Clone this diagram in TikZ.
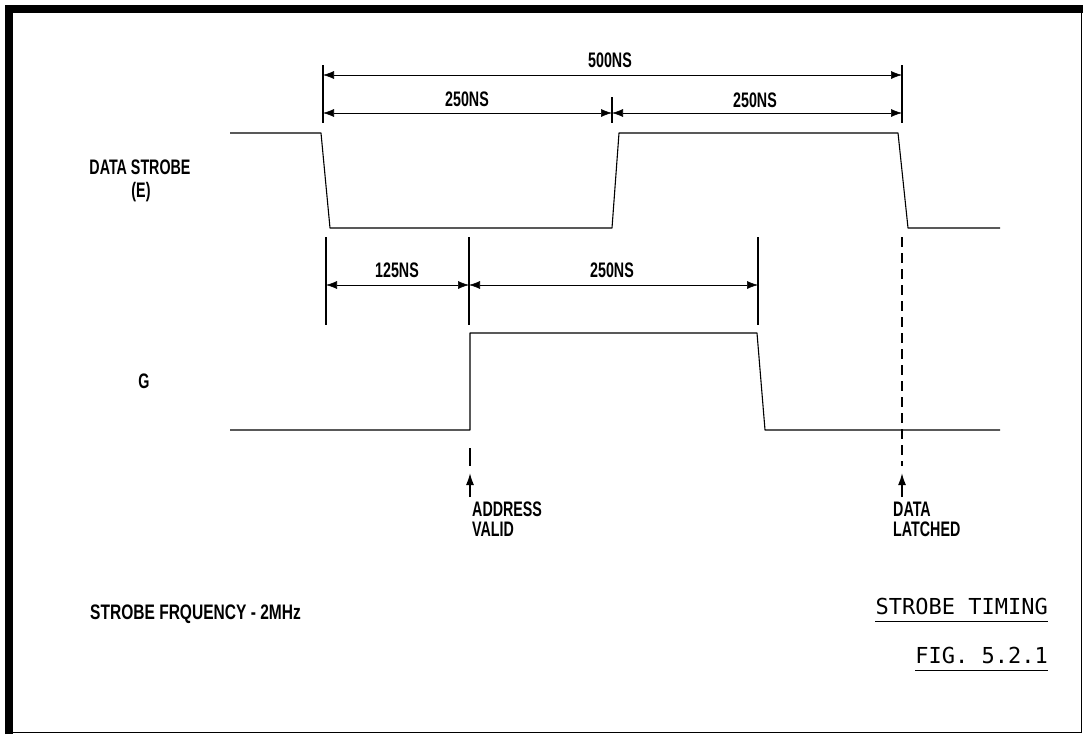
\documentclass[tikz,border=0pt]{standalone}
\usepackage{fontspec}
\usetikzlibrary{arrows.meta}
\usetikzlibrary{positioning}
\newfontfamily\plotfont{Liberation Sans}[FakeStretch=0.68]
\newfontfamily\widefont{Liberation Sans}[FakeStretch=0.74]
\newfontfamily\titlefont{DejaVu Sans Mono}
\tikzset{
  tickline/.style={line width=1.6pt},
  signal/.style={line width=1.1pt, line join=round},
  dimline/.style={line width=0.6pt, {Latex[length=11pt,width=8pt]}-{Latex[length=11pt,width=8pt]}},
  markarrow/.style={line width=1.6pt, -{Latex[length=12pt,width=8pt]}},
  lbl/.style={font=\plotfont\bfseries\fontsize{21}{19.5}\selectfont, inner sep=0pt},
  title/.style={font=\titlefont\fontsize{22}{24}\selectfont, inner sep=0pt},
}

\begin{document}
\begin{tikzpicture}[x=1pt,y=-1pt]
\useasboundingbox (0,0) rectangle (1083,734);
% frame
\draw[line width=8pt] (9,734) -- (9,9) -- (1083,9);
\draw[line width=1pt] (1081,9) -- (1081,732) -- (9,732);

% waveforms
\draw[signal] (230,133) -- (321,133) -- (330,228) -- (612,228) -- (619,133) -- (898,133) -- (908,228) -- (1000,228);
\draw[signal] (230,430) -- (470,430) -- (470,333) -- (757,333) -- (765,430) -- (1000,430);

% time marks
\draw[tickline] (323,65) -- (323,123);
\draw[tickline] (902,65) -- (902,123);
\draw[tickline] (612,97) -- (612,123);
\draw[tickline] (326,237) -- (326,325);
\draw[tickline] (469,237) -- (469,325);
\draw[tickline] (758,237) -- (758,325);
\draw[tickline, dash pattern=on 10pt off 6pt] (902,237) -- (902,466);

\coordinate (a0) at (323,75);
\coordinate (a2) at (902,75);
\coordinate (b0) at (323,113);
\coordinate (b1) at (612,113);
\coordinate (b2) at (902,113);
\coordinate (c0) at (326,285);
\coordinate (c1) at (469,285);
\coordinate (c2) at (758,285);

\draw[dimline] (a0) -- (a2);
\draw[dimline] (b0) -- (b1);
\draw[dimline] (b1) -- (b2);
\draw[dimline] (c0) -- (c1);
\draw[dimline] (c1) -- (c2);

\node[lbl] (t500) at (610,60) {500NS};
\node[lbl] (t250a) at (467,99) {250NS};
\node[lbl] (t250b) at (755,100) {250NS};
\node[lbl] (t125) at (397,270) {125NS};
\node[lbl] (t250c) at (612,270) {250NS};

% signal names
\node[lbl] (strobe) at (140,167) {DATA STROBE};
\node[lbl] (enable) at (141,192) {(E)};
\node[lbl] (gate) at (144,381) {G};

% markers
\coordinate (addrtop) at (470,448);
\coordinate (addrbot) at (470,466);
\coordinate (addrtail) at (470,497);
\coordinate (addrtip) at (470,473);
\coordinate (latchtail) at (902,497);
\coordinate (latchtip) at (902,473);
\draw[tickline] (addrtop) -- (addrbot);
\draw[markarrow] (addrtail) -- (addrtip);
\draw[markarrow] (latchtail) -- (latchtip);

\node[lbl, anchor=north west, align=left] (addr) at (472,502) {ADDRESS\\VALID};
\node[lbl, anchor=north west, align=left] (latch) at (893,502) {DATA\\LATCHED};

% notes
\node[lbl, font=\widefont\bfseries\fontsize{21}{19.5}\selectfont, anchor=west] (freq) at (90,614) {STROBE FRQUENCY - 2MHz};
\node[title, anchor=east] (name) at (1048,606) {STROBE TIMING};
\node[title, anchor=east] (fig) at (1048,655) {FIG. 5.2.1};
\draw[line width=1.8pt] ([yshift=-7pt]name.south west) -- ([yshift=-7pt]name.south east);
\draw[line width=1.8pt] ([yshift=-7pt]fig.south west) -- ([yshift=-7pt]fig.south east);
\end{tikzpicture}
\end{document}
